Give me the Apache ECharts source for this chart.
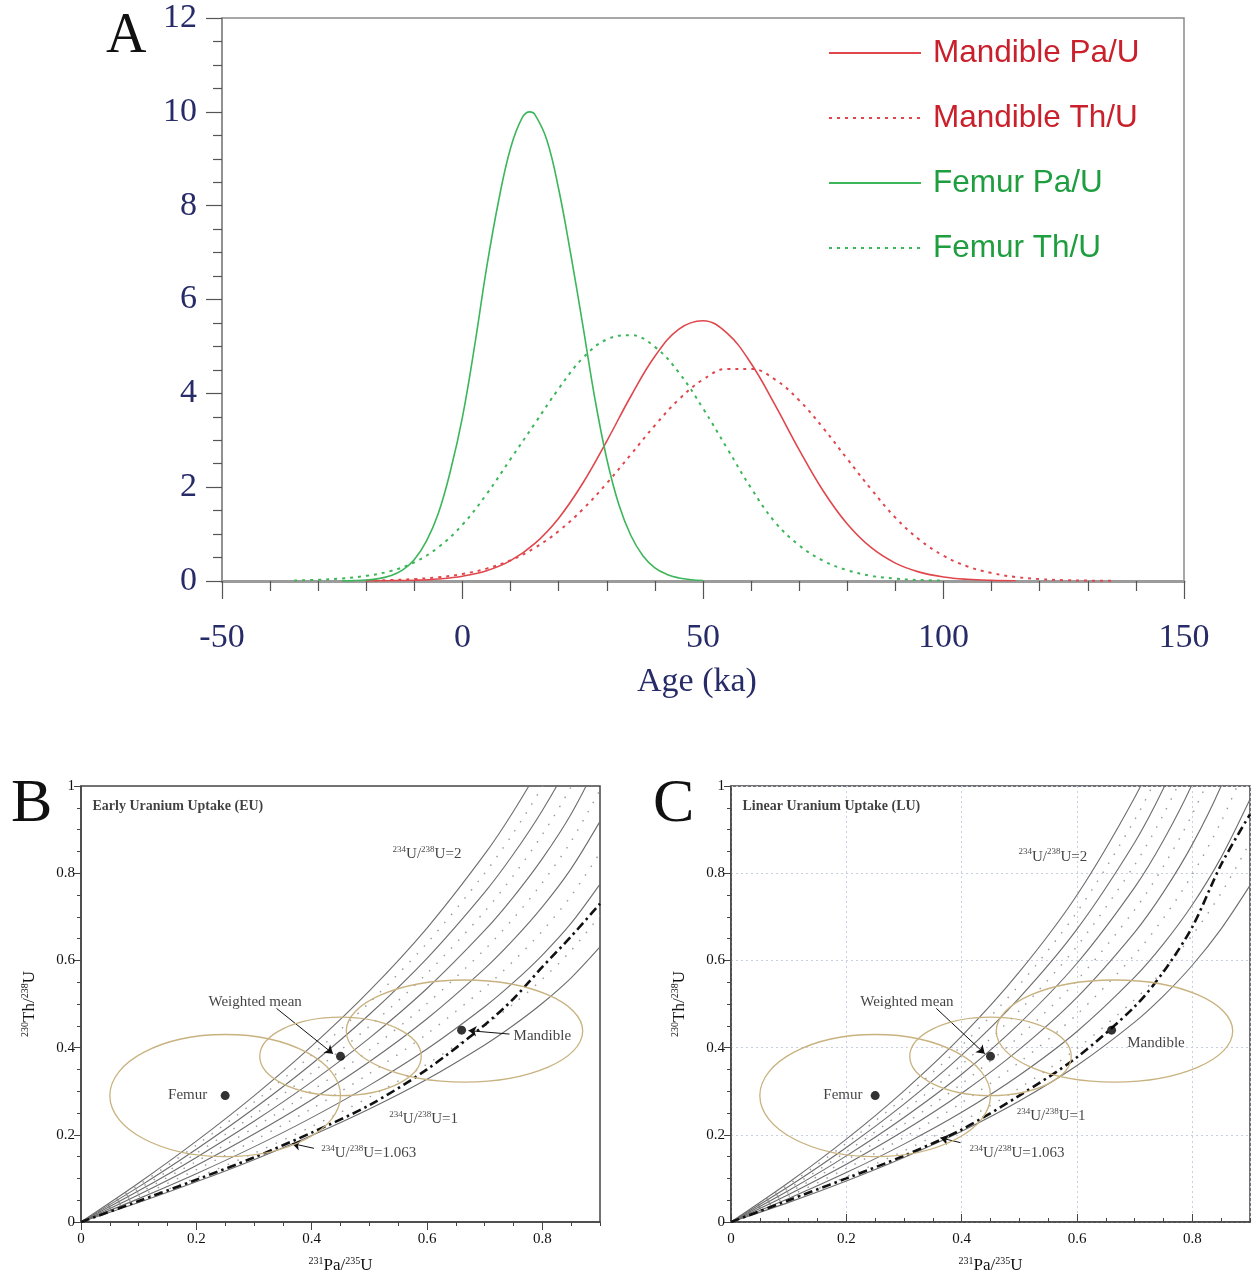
<!DOCTYPE html>
<html><head><meta charset="utf-8">
<script src="https://cdn.jsdelivr.net/npm/echarts@6/dist/echarts.min.js"></script>
<style>html,body{margin:0;padding:0;background:#fff}#c{width:1252px;height:1277px}</style>
</head><body><div id="c"></div>
<script>
// ---------------- Panel A data (probability vs age, ka) ----------------
const ageFemurPa = [-25,-22.5,-20,-17.5,-15,-12.5,-10,-7.5,-5,-2.5,0,2.5,5,7.5,10,12.5,14,15,17.5,20,22.5,25,27.5,30,32.5,35,37.5,40,42.5,45,47.5,50];
const femurPa    = [0.003,0.008,0.02,0.05,0.11,0.23,0.46,0.85,1.45,2.35,3.5,5.0,6.67,8.1,9.23,9.89,10.0,9.95,9.41,8.35,6.97,5.46,3.9,2.6,1.63,0.97,0.54,0.28,0.14,0.065,0.028,0.011];
const ageMandPa  = [-20,-15,-10,-5,0,5,10,15,20,25,30,35,40,45,50,55,60,65,70,75,80,85,90,95,100,105,110,115];
const mandPa     = [0.002,0.006,0.017,0.044,0.102,0.219,0.434,0.795,1.34,2.083,2.983,3.938,4.79,5.37,5.548,5.282,4.636,3.75,2.795,1.919,1.215,0.709,0.381,0.189,0.086,0.036,0.014,0.005];
const ageFemurTh = [-35,-30,-25,-20,-15,-10,-5,0,5,10,15,20,25,30,35,40,45,50,55,60,65,70,75,80,85,90,95,100];
const femurTh    = [0.01,0.025,0.055,0.11,0.21,0.4,0.72,1.2,1.85,2.6,3.35,4.1,4.75,5.15,5.24,4.99,4.44,3.68,2.83,1.98,1.25,0.76,0.43,0.23,0.11,0.05,0.02,0.008];
const ageMandTh  = [-20,-15,-10,-5,0,5,10,15,20,25,30,35,40,45,50,55,60,65,70,75,80,85,90,95,100,105,110,115,120,125,130,135];
const mandTh     = [0.009,0.02,0.041,0.08,0.15,0.264,0.442,0.704,1.064,1.528,2.083,2.697,3.317,3.872,4.293,4.521,4.521,4.293,3.85,3.26,2.6,1.95,1.35,0.88,0.54,0.31,0.17,0.085,0.04,0.018,0.008,0.003];
const ageTicksA  = [-50,0,50,100,150];

// ---------------- Panels B/C data (231Pa/235U vs 230Th/238U) ----------------
const paGrid = [0,0.1,0.2,0.3,0.4,0.5,0.6,0.7,0.75,0.8,0.85,0.9];
// Early uptake (EU), curves for 234U/238U = 1.0 ... 2.0
const eu10 = [0,0.0446,0.0921,0.1430,0.1984,0.2592,0.3274,0.4061,0.4512,0.5017,0.5600,0.6308];
const eu11 = [0,0.0491,0.1014,0.1577,0.2189,0.2863,0.3621,0.4499,0.5003,0.5570,0.6227,0.7028];
const eu12 = [0,0.0536,0.1108,0.1723,0.2394,0.3134,0.3967,0.4936,0.5494,0.6123,0.6853,0.7749];
const eu13 = [0,0.0581,0.1201,0.1870,0.2599,0.3404,0.4314,0.5373,0.5985,0.6675,0.7480,0.8469];
const eu14 = [0,0.0625,0.1294,0.2016,0.2804,0.3675,0.4661,0.5811,0.6476,0.7228,0.8106,0.9189];
const eu15 = [0,0.0670,0.1388,0.2162,0.3009,0.3946,0.5008,0.6248,0.6967,0.7781,0.8733,0.9909];
const eu16 = [0,0.0715,0.1481,0.2309,0.3214,0.4217,0.5355,0.6686,0.7458,0.8334,0.9359,1.0629];
const eu17 = [0,0.0760,0.1575,0.2455,0.3419,0.4488,0.5701,0.7123,0.7949,0.8886,0.9986,1.1349];
const eu18 = [0,0.0805,0.1668,0.2602,0.3624,0.4759,0.6048,0.7561,0.8440,0.9439,1.0612,1.2069];
const eu19 = [0,0.0850,0.1762,0.2748,0.3829,0.5030,0.6395,0.7999,0.8931,0.9992,1.1239,1.2789];
const eu20 = [0,0.0895,0.1855,0.2894,0.4034,0.5300,0.6742,0.8436,0.9422,1.0545,1.1865,1.3510];
const euDashDot = [0,0.048,0.097,0.148,0.205,0.268,0.35,0.452,0.512,0.585,0.655,0.73];
// Linear uptake (LU)
const lu10 = [0,0.0450,0.0941,0.1480,0.2081,0.2775,0.3588,0.4584,0.5187,0.5889,0.6724,0.7720];
const lu11 = [0,0.0496,0.1037,0.1633,0.2299,0.3071,0.3979,0.5100,0.5782,0.6582,0.7544,0.8707];
const lu12 = [0,0.0541,0.1133,0.1786,0.2517,0.3367,0.4370,0.5615,0.6377,0.7275,0.8363,0.9694];
const lu13 = [0,0.0587,0.1229,0.1939,0.2735,0.3663,0.4762,0.6130,0.6971,0.7968,0.9182,1.0681];
const lu14 = [0,0.0632,0.1325,0.2092,0.2953,0.3959,0.5153,0.6645,0.7566,0.8661,1.0002,1.1668];
const lu15 = [0,0.0678,0.1421,0.2245,0.3171,0.4255,0.5544,0.7161,0.8161,0.9355,1.0821,1.2656];
const lu16 = [0,0.0723,0.1517,0.2398,0.3389,0.4551,0.5935,0.7676,0.8756,1.0048,1.1640,1.3643];
const lu17 = [0,0.0769,0.1613,0.2551,0.3608,0.4847,0.6326,0.8191,0.9351,1.0741,1.2459,1.4630];
const lu18 = [0,0.0814,0.1709,0.2703,0.3826,0.5143,0.6718,0.8706,0.9946,1.1434,1.3279,1.5618];
const lu19 = [0,0.0860,0.1804,0.2856,0.4044,0.5439,0.7109,0.9222,1.0540,1.2128,1.4098,1.6605];
const lu20 = [0,0.0905,0.1900,0.3009,0.4262,0.5735,0.7500,0.9737,1.1136,1.2821,1.4917,1.7592];
const luDashDot = [0,0.05,0.10,0.152,0.212,0.29,0.378,0.494,0.574,0.677,0.82,0.935];

// Samples: [231Pa/235U, 230Th/238U]
const sampleNames = ['Femur','Weighted mean','Mandible'];
const samplePa = [0.25, 0.45, 0.66];
const sampleTh = [0.29, 0.38, 0.44];
// error ellipses: centre and half-widths
const ellCx = [0.25, 0.45, 0.665];
const ellCy = [0.29, 0.38, 0.438];
const ellRx = [0.20, 0.14, 0.205];
const ellRy = [0.14, 0.09, 0.117];

// ---------------- styling ----------------
const serif = '"Liberation Serif","Times New Roman",serif';
const sans = '"Liberation Sans",Arial,sans-serif';
const navy = '#272b68';
const redLine = '#e0474c', redText = '#c9202b';
const greenLine = '#3cb65a', greenText = '#1f9e40';

const zip = (xs, ys) => xs.map((x, i) => [x, ys[i]]);

function aLine(name, xs, ys, color, dotted) {
  return { name, type: 'line', xAxisIndex: 0, yAxisIndex: 0, data: zip(xs, ys), smooth: 0.4,
    symbol: 'none', lineStyle: { color, width: dotted ? 2 : 1.6, type: dotted ? [3, 5] : 'solid' },
    itemStyle: { color }, z: 3 };
}

function evoLine(ys, xi, yi, kind) {
  const st = kind === 'solid' ? { color: '#6d6d6d', width: 1.1, type: 'solid' }
           : kind === 'dot' ? { color: '#9a9a9a', width: 1.4, type: [1.5, 9] }
           : { color: '#111', width: 2.6, type: [9, 4, 2.5, 4] };
  return { type: 'line', xAxisIndex: xi, yAxisIndex: yi, data: zip(paGrid, ys), smooth: 0.3,
    symbol: 'none', lineStyle: st, clip: true, silent: true, z: kind === 'dash' ? 4 : 2 };
}

const sup = { fontSize: 9, fontFamily: serif, color: '#111', verticalAlign: 'top', lineHeight: 9 };
function labelItem(x, y, text, pos) {
  return { value: [x, y], label: { show: true, formatter: text, position: pos || 'inside', distance: 0,
    fontFamily: serif, fontSize: 15, color: '#111', lineHeight: 18, rich: { s: sup } } };
}

function panelSeries(xi, yi, curvesSolid, curvesDot, dash, title, labels, arrows) {
  const s = [];
  curvesDot.forEach(c => s.push(evoLine(c, xi, yi, 'dot')));
  curvesSolid.forEach(c => s.push(evoLine(c, xi, yi, 'solid')));
  s.push(evoLine(dash, xi, yi, 'dash'));
  s.push({ type: 'custom', xAxisIndex: xi, yAxisIndex: yi, silent: true, z: 5,
    data: ellCx.map((c, i) => [c, ellCy[i], ellRx[i], ellRy[i]]),
    encode: { x: 0, y: 1 },
    renderItem: (params, api) => {
      const c = api.coord([api.value(0), api.value(1)]);
      const sz = api.size([api.value(2), api.value(3)]);
      return { type: 'ellipse', shape: { cx: c[0], cy: c[1], rx: sz[0], ry: sz[1] },
        style: { fill: 'none', stroke: '#c8b27f', lineWidth: 1.3 } };
    } });
  s.push({ type: 'scatter', xAxisIndex: xi, yAxisIndex: yi, symbol: 'circle', symbolSize: 9, z: 6,
    itemStyle: { color: '#000' }, data: zip(samplePa, sampleTh), silent: true,
    markLine: { silent: true, symbol: ['none', 'arrow'], symbolSize: 8, animation: false,
      label: { show: false }, lineStyle: { color: '#111', width: 1, type: 'solid' },
      data: arrows.map(a => [{ coord: [a[0], a[1]] }, { coord: [a[2], a[3]] }]) } });
  const items = [labelItem(0.02, 0.954, title, 'right')].concat(labels.map(l => labelItem(l[0], l[1], l[2])));
  items[0].label.fontWeight = 'bold';
  items[0].label.fontSize = 14;
  s.push({ type: 'scatter', xAxisIndex: xi, yAxisIndex: yi, symbolSize: 0, z: 7, silent: true, data: items });
  return s;
}

const bLabels = [
  [0.302, 0.504, 'Weighted mean'], [0.185, 0.29, 'Femur'], [0.80, 0.427, 'Mandible'],
  [0.60, 0.843, '{s|234}U/{s|238}U=2'], [0.594, 0.237, '{s|234}U/{s|238}U=1'], [0.499, 0.159, '{s|234}U/{s|238}U=1.063']
];
const bArrows = [[0.339, 0.49, 0.437, 0.386], [0.743, 0.431, 0.672, 0.439], [0.404, 0.169, 0.366, 0.18]];
const cLabels = [
  [0.305, 0.504, 'Weighted mean'], [0.194, 0.29, 'Femur'], [0.737, 0.411, 'Mandible'],
  [0.558, 0.838, '{s|234}U/{s|238}U=2'], [0.555, 0.243, '{s|234}U/{s|238}U=1'], [0.496, 0.157, '{s|234}U/{s|238}U=1.063']
];
const cArrows = [[0.356, 0.49, 0.44, 0.386], [0.398, 0.182, 0.363, 0.193]];

const seriesB = panelSeries(1, 1, [eu10, eu12, eu14, eu16, eu18, eu20], [eu11, eu13, eu15, eu17, eu19], euDashDot,
  'Early Uranium Uptake (EU)', bLabels, bArrows);
const seriesC = panelSeries(3, 2, [lu10, lu12, lu14, lu16, lu18, lu20], [lu11, lu13, lu15, lu17, lu19], luDashDot,
  'Linear Uranium Uptake (LU)', cLabels, cArrows);

const supName = { fontSize: 10, fontFamily: serif, color: '#111', verticalAlign: 'top', lineHeight: 10 };
function smallX(grid, inside) {
  return [{
    type: 'value', gridIndex: grid, min: 0, max: 0.9, interval: 0.2,
    axisLine: { onZero: false, lineStyle: { color: '#444', width: 1.5 } },
    axisTick: { inside: inside, length: 8, lineStyle: { color: '#444' } },
    axisLabel: { showMaxLabel: false, fontFamily: serif, fontSize: 15, color: '#111', margin: 10 },
    splitLine: grid === 2 ? { show: true, lineStyle: { color: '#c9cfe2', type: [2, 3] } } : { show: false },
    name: '{s|231}Pa/{s|235}U', nameLocation: 'middle', nameGap: 34,
    nameTextStyle: { fontFamily: serif, fontSize: 17, color: '#111', lineHeight: 19, rich: { s: supName } }
  }, {
    type: 'value', gridIndex: grid, min: 0, max: 0.9, interval: 0.05, position: 'bottom',
    axisLine: { show: false }, axisLabel: { show: false }, splitLine: { show: false },
    axisTick: { inside: inside, length: 4, lineStyle: { color: '#444' } }
  }];
}
function smallY(grid) {
  return {
    type: 'value', gridIndex: grid, min: 0, max: 1, interval: 0.2,
    axisLine: { onZero: false, lineStyle: { color: '#444', width: 1.5 } },
    axisTick: { length: 7, lineStyle: { color: '#444' } },
    minorTick: { show: true, splitNumber: 4, length: 4, lineStyle: { color: '#444' } },
    axisLabel: { fontFamily: serif, fontSize: 15, color: '#111', margin: 6 },
    splitLine: grid === 2 ? { show: true, lineStyle: { color: '#c9cfe2', type: [2, 3] } } : { show: false },
    name: '{s|230}Th/{s|238}U', nameLocation: 'middle', nameGap: 42,
    nameTextStyle: { fontFamily: serif, fontSize: 17, color: '#111', lineHeight: 19, rich: { s: supName } }
  };
}

const option = {
  animation: false,
  backgroundColor: '#fff',
  grid: [
    { left: 222, top: 18, width: 962, height: 563, show: true, borderColor: '#8a8a8a', borderWidth: 1.5 },
    { left: 81, top: 786, width: 519, height: 436, show: true, borderColor: '#444', borderWidth: 1.5 },
    { left: 731, top: 786, width: 519, height: 436, show: true, borderColor: '#444', borderWidth: 1.5 }
  ],
  legend: {
    orient: 'vertical', left: 828, top: 37, itemWidth: 92, itemHeight: 14, itemGap: 33, padding: 0,
    itemStyle: { opacity: 0 },
    textStyle: { fontFamily: sans, fontSize: 31.5, padding: [0, 0, 0, 7] },
    data: [
      { name: 'Mandible Pa/U', textStyle: { color: redText } },
      { name: 'Mandible Th/U', textStyle: { color: redText } },
      { name: 'Femur Pa/U', textStyle: { color: greenText } },
      { name: 'Femur Th/U', textStyle: { color: greenText } }
    ]
  },
  xAxis: [
    {
      type: 'value', gridIndex: 0, min: ageTicksA[0], max: ageTicksA[ageTicksA.length - 1], interval: 50,
      axisLine: { onZero: false, lineStyle: { color: '#9b9b9b', width: 3 } },
      axisTick: { length: 18, lineStyle: { color: '#555', width: 1.2 } },
      minorTick: { show: true, splitNumber: 5, length: 10, lineStyle: { color: '#555', width: 1.2 } },
      axisLabel: { fontFamily: serif, fontSize: 34, color: navy, margin: 40 },
      splitLine: { show: false },
      name: 'Age (ka)', nameLocation: 'middle', nameGap: 84,
      nameTextStyle: { fontFamily: serif, fontSize: 34, color: navy, padding: [0, 12, 0, 0] }
    },
    ...smallX(1, false),
    ...smallX(2, true)
  ],
  yAxis: [
    {
      type: 'value', gridIndex: 0, min: 0, max: 12, interval: 2,
      axisLine: { onZero: false, lineStyle: { color: '#8a8a8a', width: 1.5 } },
      axisTick: { length: 16, lineStyle: { color: '#555', width: 1.2 } },
      minorTick: { show: true, splitNumber: 4, length: 9, lineStyle: { color: '#555', width: 1.2 } },
      axisLabel: { fontFamily: serif, fontSize: 34, color: navy, margin: 25 },
      splitLine: { show: false }
    },
    smallY(1),
    smallY(2)
  ],
  graphic: [
    { type: 'text', left: 106, top: 9, style: { text: 'A', font: '56px ' + serif, fill: '#111' } },
    { type: 'text', left: 11, top: 774, style: { text: 'B', font: '62px ' + serif, fill: '#111' } },
    { type: 'text', left: 653, top: 774, style: { text: 'C', font: '62px ' + serif, fill: '#111' } }
  ],
  series: [
    aLine('Mandible Pa/U', ageMandPa, mandPa, redLine, false),
    aLine('Mandible Th/U', ageMandTh, mandTh, redLine, true),
    aLine('Femur Pa/U', ageFemurPa, femurPa, greenLine, false),
    aLine('Femur Th/U', ageFemurTh, femurTh, greenLine, true),
    ...seriesB,
    ...seriesC
  ]
};

const chart = echarts.init(document.getElementById('c'), null, { renderer: 'canvas' });
chart.setOption(option);
</script></body></html>
